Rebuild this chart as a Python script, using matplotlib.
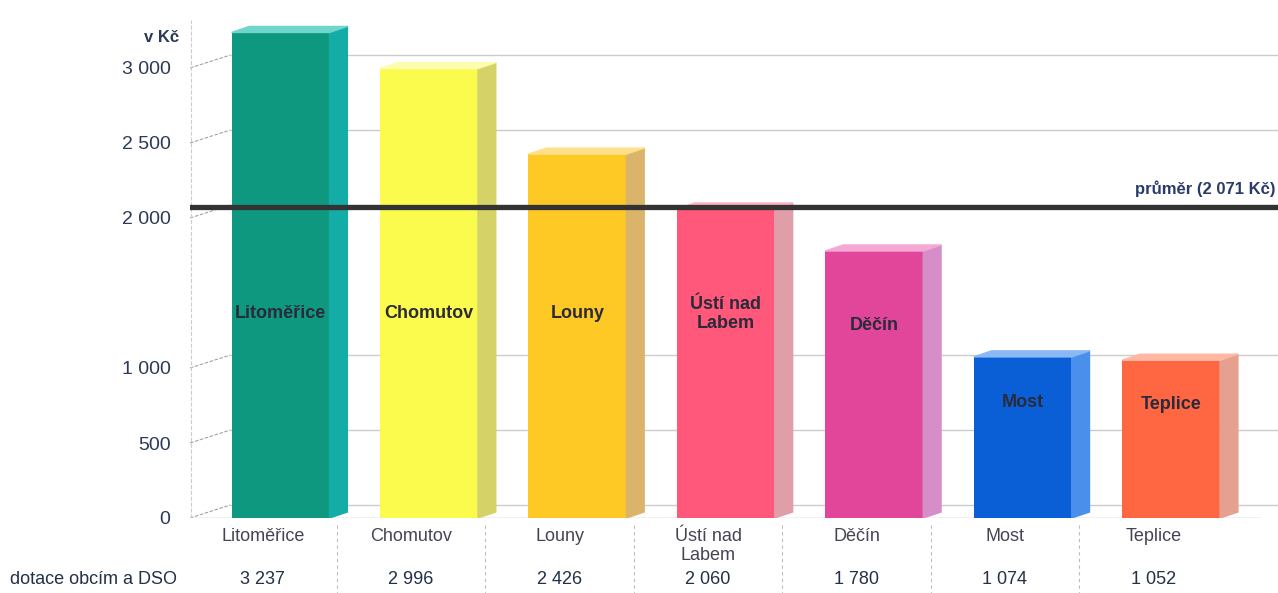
#! /usr/bin/env python3

import matplotlib.pyplot as plt
from matplotlib.patches import Polygon
from matplotlib.transforms import blended_transform_factory
import numpy as np

plt.rcParams['font.family'] = ['Liberation Sans', 'DejaVu Sans']

#--------- data ----------#

okresy = ["Litoměřice", "Chomutov", "Louny", "Ústí nad\nLabem", "Děčín", "Most", "Teplice"]
dotace = [3237, 2996, 2426, 2060, 1780, 1074, 1052]
dotace_txt = ["3 237", "2 996", "2 426", "2 060", "1 780", "1 074", "1 052"]
prumer = 2071
y_ticks = [0, 500, 1000, 2000, 2500, 3000]
y_tick_labels = ["0", "500", "1 000", "2 000", "2 500", "3 000"]

front_col = ["#0f9880", "#fbfb4e", "#ffc925", "#ff587a", "#e2469a", "#0b5fd6", "#ff6642"]
side_col = ["#13aca6", "#d5d268", "#dab46a", "#df9ea8", "#d68ec8", "#4a8fec", "#e6a090"]
top_col = ["#6fd6cc", "#fdfdb0", "#ffe08a", "#ffb0c0", "#f4a8d4", "#8ab8f4", "#ffb8a4"]

#----- plot -----#

fig = plt.figure(figsize=(12.78, 5.93), dpi=100)
ax = fig.add_axes([190/1278, 1-518/593, 1-190/1278, 498/593])
ax.set_xlim(-0.61, 6.72)
ax.set_ylim(0, 3320)
for s in ax.spines.values():
	s.set_visible(False)
ax.set_xticks([])
ax.set_yticks(y_ticks)
ax.set_yticklabels(y_tick_labels, fontsize=14, color="#2b3a55")
ax.tick_params(axis="y", length=0, pad=14)

# back wall grid
wall_dx, wall_dy = 0.27, 86
for t in y_ticks:
	ax.plot([-0.61, -0.61 + wall_dx], [t, t + wall_dy], color="#999999", lw=0.7, ls="--")
	ax.plot([-0.61 + wall_dx, 6.72], [t + wall_dy, t + wall_dy], color="#cccccc", lw=1.0)
ax.plot([-0.6, -0.6], [0, 3320], color="#cccccc", lw=0.8, ls="--")
ax.plot([-0.61, 6.6], [0, 0], color="#bbbbbb", lw=1.0)

# bars with a fake depth
w = 0.66
dx, dy = 0.12, 40
x = np.arange(len(dotace))
ax.bar(x, dotace, width=w, color=front_col, zorder=3)
for i, v in enumerate(dotace):
	r = x[i] + w/2
	l = x[i] - w/2
	ax.add_patch(Polygon([(r, 0), (r + dx, dy), (r + dx, v + dy), (r, v)],
	                     closed=True, color=side_col[i], zorder=3))
	ax.add_patch(Polygon([(l, v), (l + dx, v + dy), (r + dx, v + dy), (r, v)],
	                     closed=True, color=top_col[i], zorder=3))
	ax.text(x[i], min(0.72 * v, 1360), okresy[i], ha="center", va="center",
	        fontsize=13, fontweight="bold", color="#2a2a3a", zorder=5, linespacing=1.1)

# average
ax.axhline(prumer, color="#333333", lw=3.8, zorder=4)
ax.text(6.70, prumer + 70, "průměr (2 071 Kč)", ha="right", va="bottom",
        fontsize=12, fontweight="bold", color="#2a3b6a")
ax.text(-0.685, 3150, "v Kč", ha="right", va="bottom", fontsize=12,
        fontweight="bold", color="#2b3a55", clip_on=False)

# table under the chart
tr = blended_transform_factory(ax.transData, fig.transFigure)
for i in range(len(dotace)):
	ax.text(x[i] - 0.12, 1-528/593, okresy[i], transform=tr, ha="center", va="top",
	        fontsize=13, color="#444455", linespacing=1.15)
	ax.text(x[i] - 0.12, 1-580/593, dotace_txt[i], transform=tr, ha="center", va="center",
	        fontsize=13, color="#223048")
	if i < len(dotace) - 1:
		ax.plot([x[i] + 0.38, x[i] + 0.38], [1-525/593, 0], transform=tr,
		        color="#bbbbbb", lw=0.8, ls=(0, (3, 3)), clip_on=False)
fig.text(10/1278, 1-580/593, "dotace obcím a DSO", ha="left", va="center",
         fontsize=13, color="#223048")

fig.savefig("out.png", dpi=100)
